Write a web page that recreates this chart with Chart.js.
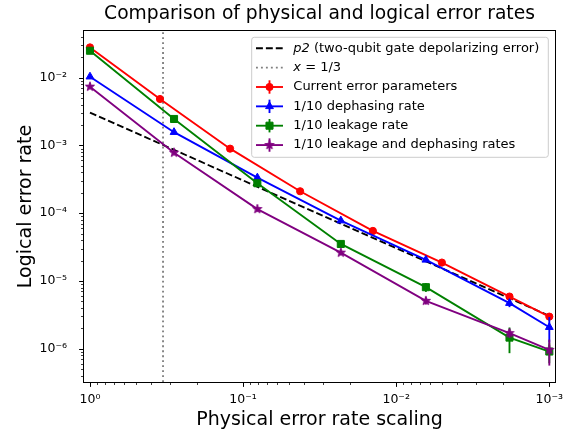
<!DOCTYPE html>
<html><head><meta charset="utf-8">
<script src="https://cdn.jsdelivr.net/npm/chart.js@4.4.0/dist/chart.umd.min.js"></script>
<style>html,body{margin:0;padding:0;background:#fff;}#wrap{width:575px;height:438px;position:relative;}canvas{display:block;}</style>
</head><body><div id="wrap"><canvas id="c" width="575" height="438"></canvas></div>
<script>
// ---- data ----
const titleText = 'Comparison of physical and logical error rates';
const xLabel = 'Physical error rate scaling';
const yLabel = 'Logical error rate';

const xRed   = [1.0, 0.349, 0.1216, 0.0424, 0.0142, 0.00503, 0.00182, 0.001];
const yRed   = [0.028, 0.00485, 8.97e-4, 2.11e-4, 5.48e-5, 1.87e-5, 5.89e-6, 2.98e-6];
const eRed   = [0.001, 0.0002, 4e-5, 1e-5, 3e-6, 1.2e-6, 5e-7, 3.5e-7];

const xOther  = [1.0, 0.2825, 0.0807, 0.0230, 0.0064, 0.00182, 0.001];
const yBlue   = [0.01035, 1.57e-3, 3.35e-4, 7.78e-5, 2.05e-5, 4.71e-6, 2.08e-6];
const eBlue   = [5e-4, 8e-5, 2e-5, 5e-6, 1.5e-6, 6e-7, 8.5e-7];
const yGreen  = [0.025, 2.46e-3, 2.77e-4, 3.52e-5, 8.1e-6, 1.46e-6, 9.1e-7];
const eGreen  = [1e-3, 1.2e-4, 2e-5, 3e-6, 1.2e-6, 6e-7, 3e-7];
const yPurple = [7.37e-3, 7.83e-4, 1.15e-4, 2.62e-5, 5.09e-6, 1.70e-6, 9.64e-7];
const ePurple = [3e-4, 4e-5, 8e-6, 2e-6, 6e-7, 2.5e-7, 4e-7];

const xP2 = [1.0, 0.001];
const yP2 = [3.05e-3, 3.05e-6];
const xThird = 1/3;

const xMin = 9.18e-4, xMax = 1.094;
const yMin = 3.23e-7, yMax = 0.0489;

const seriesLabels = ['p2 (two-qubit gate depolarizing error)', 'x = 1/3', 'Current error parameters',
  '1/10 dephasing rate', '1/10 leakage rate', '1/10 leakage and dephasing rates'];

// ---- helpers ----
const FONT = "'DejaVu Sans', 'Liberation Sans', sans-serif";
const pts = (xs, ys) => xs.map((x, i) => ({x: x, y: ys[i]}));
const SUP = {'-':'\u207B','0':'\u2070','1':'\u00B9','2':'\u00B2','3':'\u00B3','4':'\u2074','5':'\u2075','6':'\u2076','7':'\u2077','8':'\u2078','9':'\u2079'};
function isDecade(v){ const l = Math.log10(v); return Math.abs(l - Math.round(l)) < 1e-6; }
function decadeLabel(v){ const e = String(Math.round(Math.log10(v))); return '10' + e.split('').map(c => SUP[c]).join(''); }

function makeStar(color, R, r) {
  const c = document.createElement('canvas');
  const s = 14; c.width = s; c.height = s;
  const g = c.getContext('2d');
  g.beginPath();
  for (let i = 0; i < 10; i++) {
    const rad = (i % 2 === 0) ? R : r;
    const a = -Math.PI / 2 + i * Math.PI / 5;
    const px = s / 2 + rad * Math.cos(a), py = s / 2 + rad * Math.sin(a);
    if (i) g.lineTo(px, py); else g.moveTo(px, py);
  }
  g.closePath();
  g.fillStyle = color; g.fill();
  g.lineWidth = 1; g.strokeStyle = color; g.lineJoin = 'miter'; g.stroke();
  return c;
}
const starImg = makeStar('#800080', 4.8, 1.9);

const LW = 1.87;
function series(label, xs, ys, errs, color, style, radius, order) {
  return {
    label: label, data: pts(xs, ys), errors: errs, showLine: true,
    borderColor: color, backgroundColor: color, borderWidth: LW,
    pointStyle: style, pointRadius: radius, pointBorderWidth: 1,
    pointBorderColor: color, pointBackgroundColor: color, tension: 0, order: order
  };
}

const datasets = [
  {label: seriesLabels[0], data: pts(xP2, yP2), showLine: true, borderColor: '#000000', borderWidth: LW,
   borderDash: [6.9, 3], pointRadius: 0, order: 6},
  {label: seriesLabels[1], data: [{x: xThird, y: yMin}, {x: xThird, y: yMax}], showLine: true,
   borderColor: '#808080', borderWidth: LW, borderDash: [1.87, 3.1], pointRadius: 0, order: 5},
  series(seriesLabels[2], xRed, yRed, eRed, '#ff0000', 'circle', 3.6, 4),
  series(seriesLabels[3], xOther, yBlue, eBlue, '#0000ff', 'triangle', 4.5, 3),
  series(seriesLabels[4], xOther, yGreen, eGreen, '#008000', 'rect', 5.0, 2),
  series(seriesLabels[5], xOther, yPurple, ePurple, '#800080', starImg, 5, 1)
];

// error bars drawn just before each dataset
const errorBars = {
  id: 'errorBars',
  beforeDatasetDraw(chart, args) {
    const ds = chart.data.datasets[args.index];
    if (!ds.errors) return;
    const {ctx, scales: {x, y}} = chart;
    ctx.save();
    ctx.strokeStyle = ds.borderColor; ctx.lineWidth = LW;
    ds.data.forEach((p, i) => {
      const e = ds.errors[i];
      const px = x.getPixelForValue(p.x);
      ctx.beginPath();
      ctx.moveTo(px, y.getPixelForValue(p.y + e));
      ctx.lineTo(px, y.getPixelForValue(Math.max(p.y - e, yMin * 0.5)));
      ctx.stroke();
    });
    ctx.restore();
  }
};

// matplotlib style frame and tick marks (major + minor, outward)
const tickMarks = {
  id: 'tickMarks',
  afterDraw(chart) {
    const {ctx, chartArea: ca, scales: {x, y}} = chart;
    ctx.save();
    ctx.strokeStyle = '#000';
    ctx.lineWidth = 1;
    ctx.strokeRect(Math.round(ca.left) - 0.5, Math.round(ca.top) - 0.5,
      Math.round(ca.right) - Math.round(ca.left) + 1, Math.round(ca.bottom) - Math.round(ca.top) + 1);
    function each(scale, cb) {
      const lo = Math.floor(Math.log10(scale.min)), hi = Math.ceil(Math.log10(scale.max));
      for (let k = lo; k <= hi; k++) for (let d = 1; d <= 9; d++) {
        const v = d * Math.pow(10, k);
        if (v >= scale.min * 0.9999 && v <= scale.max * 1.0001) cb(scale.getPixelForValue(v), d === 1);
      }
    }
    const b = Math.round(ca.bottom) + 0.5, l = Math.round(ca.left) - 0.5;
    each(x, (px, major) => {
      ctx.lineWidth = major ? 1 : 0.75;
      ctx.beginPath(); ctx.moveTo(Math.round(px) + 0.5, b); ctx.lineTo(Math.round(px) + 0.5, b + (major ? 4.4 : 2.5)); ctx.stroke();
    });
    each(y, (py, major) => {
      ctx.lineWidth = major ? 1 : 0.75;
      ctx.beginPath(); ctx.moveTo(l, Math.round(py) + 0.5); ctx.lineTo(l - (major ? 4.4 : 2.5), Math.round(py) + 0.5); ctx.stroke();
    });
    ctx.restore();
  }
};

// matplotlib style legend in the upper right of the plot area
const mplLegend = {
  id: 'mplLegend',
  afterDraw(chart) {
    const {ctx, chartArea: ca} = chart;
    const fs = 13;
    const boxW = 296.6, boxH = 120;
    const boxRight = ca.right - 6.7, boxTop = ca.top + 6.3;
    const boxLeft = boxRight - boxW;
    ctx.save();
    ctx.beginPath();
    ctx.roundRect(boxLeft, boxTop, boxW, boxH, 2.6);
    ctx.fillStyle = 'rgba(255,255,255,0.8)'; ctx.fill();
    ctx.strokeStyle = '#cccccc'; ctx.lineWidth = 1; ctx.stroke();

    const hx0 = boxLeft + 4.3, hx1 = hx0 + 27, hxm = (hx0 + hx1) / 2, tx = hx1 + 10.3;
    const rows = [
      [[ 'p2', true], [' (two-qubit gate depolarizing error)', false]],
      [[ 'x', true], [' = 1/3', false]],
      [[seriesLabels[2], false]], [[seriesLabels[3], false]], [[seriesLabels[4], false]], [[seriesLabels[5], false]]
    ];
    rows.forEach((parts, i) => {
      const ry = boxTop + 11 + i * 19.35;
      const ds = chart.data.datasets[i];
      ctx.save();
      ctx.strokeStyle = ds.borderColor; ctx.lineWidth = LW;
      ctx.setLineDash(ds.borderDash || []);
      ctx.beginPath(); ctx.moveTo(hx0, ry); ctx.lineTo(hx1, ry); ctx.stroke();
      ctx.setLineDash([]);
      if (ds.errors) {
        ctx.beginPath(); ctx.moveTo(hxm, ry - 6.7); ctx.lineTo(hxm, ry + 6.7); ctx.stroke();
        ctx.fillStyle = ds.borderColor; ctx.lineWidth = 1;
        const st = ds.pointStyle, r = ds.pointRadius;
        ctx.beginPath();
        if (st === 'circle') { ctx.arc(hxm, ry, r, 0, Math.PI * 2); ctx.fill(); ctx.stroke(); }
        else if (st === 'triangle') {
          for (let k = 0; k < 3; k++) { const a = k * 2 * Math.PI / 3; const px = hxm + Math.sin(a) * r, py = ry - Math.cos(a) * r; if (k) ctx.lineTo(px, py); else ctx.moveTo(px, py); }
          ctx.closePath(); ctx.fill(); ctx.stroke();
        } else if (st === 'rect') { const s = r * Math.SQRT1_2; ctx.rect(hxm - s, ry - s, 2 * s, 2 * s); ctx.fill(); ctx.stroke(); }
        else { ctx.drawImage(st, hxm - st.width / 2, ry - st.height / 2); }
      }
      ctx.restore();
      let cx = tx;
      ctx.fillStyle = '#000'; ctx.textBaseline = 'middle'; ctx.textAlign = 'left';
      parts.forEach(([t, it]) => {
        ctx.font = (it ? 'italic ' : '') + fs + 'px ' + FONT;
        ctx.fillText(t, cx, ry);
        cx += ctx.measureText(t).width;
      });
    });
    ctx.restore();
  }
};

Chart.defaults.font.family = FONT;
Chart.defaults.color = '#000';

new Chart(document.getElementById('c'), {
  type: 'scatter',
  data: {datasets: datasets},
  plugins: [errorBars, tickMarks, mplLegend],
  options: {
    responsive: false, animation: false, events: [],
    layout: {padding: {top: 0, right: 20, left: 0, bottom: 0}},
    plugins: {
      legend: {display: false}, tooltip: {enabled: false},
      title: {display: true, text: titleText, fullSize: false, color: '#000',
        font: {family: FONT, size: 18.7, weight: 'normal'}, padding: {top: 2.5, bottom: 6.06}}
    },
    scales: {
      x: {
        type: 'logarithmic', reverse: true, min: xMin, max: xMax, position: 'bottom',
        afterFit: (s) => { s.height = 56; },
        grid: {display: false}, border: {display: false},
        ticks: {autoSkip: false, maxRotation: 0, minRotation: 0, padding: 2, color: '#000',
          font: {family: FONT, size: 12.5},
          callback: (v) => isDecade(v) ? decadeLabel(v) : ''},
        title: {display: true, text: xLabel, color: '#000', font: {family: FONT, size: 19}, padding: {top: 0, bottom: 6.3}}
      },
      y: {
        type: 'logarithmic', min: yMin, max: yMax, position: 'left',
        afterFit: (s) => { s.width = 84; },
        grid: {display: false}, border: {display: false},
        ticks: {autoSkip: false, padding: 9, color: '#000', font: {family: FONT, size: 12.5},
          callback: (v) => isDecade(v) ? decadeLabel(v) : ''},
        title: {display: true, text: yLabel, color: '#000', font: {family: FONT, size: 19}, padding: {top: 14.8, bottom: 0}}
      }
    }
  }
});
</script>
</body></html>
